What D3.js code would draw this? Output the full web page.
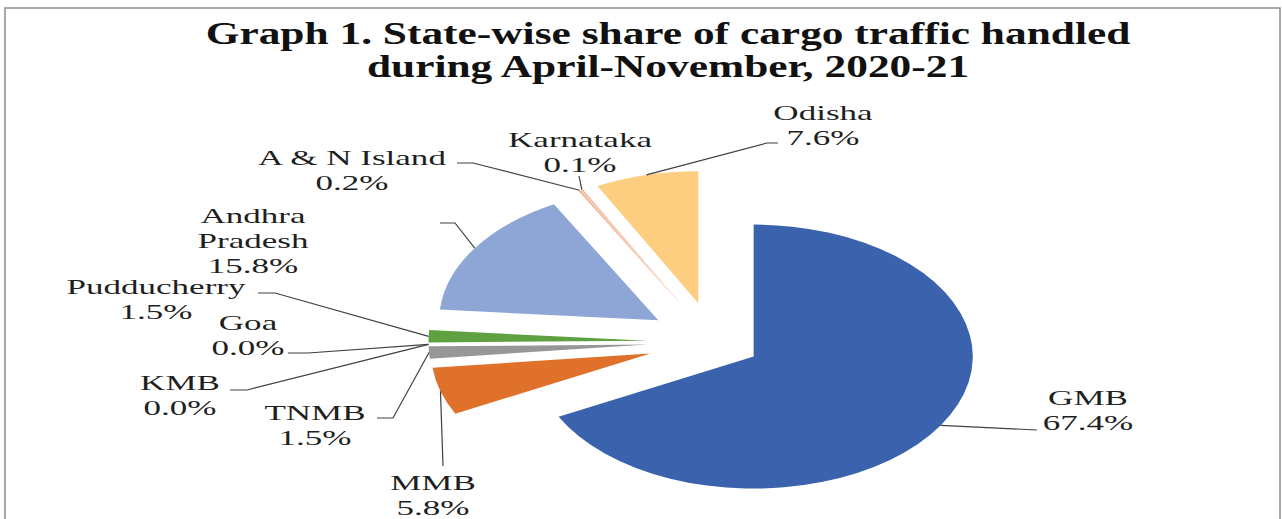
<!DOCTYPE html>
<html>
<head>
<meta charset="utf-8">
<script src="https://cdn.jsdelivr.net/npm/d3@7"></script>
<style>
  body{margin:0;background:#fff}
  text{font-family:"Liberation Serif","Times New Roman",serif}
</style>
</head>
<body>
<svg id="chart"></svg>
<script>
/* data */
const states = ['GMB','MMB','TNMB','KMB','Goa','Pudducherry','Andhra Pradesh','A & N Island','Karnataka','Odisha']
const shares = [67.4, 5.8, 1.5, 0.0, 0.0, 1.5, 15.8, 0.2, 0.1, 7.6]
const shareLabels = ['67.4%','5.8%','1.5%','0.0%','0.0%','1.5%','15.8%','0.2%','0.1%','7.6%']
const colors = ['#3b63ad','#e0712a','#979797','#f2c200','#5b9bd5','#5fa040','#8ea6d6','#f0b898','#eea67e','#fdcd80']
const titleLines = ['Graph 1. State-wise share of cargo traffic handled','during April-November, 2020-21']

const width = 1282, height = 519
const cx = 714, cy = 342, R = 132
const sx = 1.66          // the picture is stretched horizontally
const textSx = 1.63

/* label placement: name lines, label centre, first baseline, leader points */
const labelLayout = [
  {lines:['GMB'], x:1088, y:405, leader:[[1037,430]]},
  {lines:['MMB'], x:433, y:490, leader:[[443,466]]},
  {lines:['TNMB'], x:315, y:420, leader:[[393,418],[377,418]]},
  {lines:['KMB'], x:180, y:390, leader:[[247,390],[230,390]]},
  {lines:['Goa'], x:248, y:330, leader:[[308,353],[288,353]]},
  {lines:['Pudducherry'], x:156, y:294, leader:[[275,293],[258,293]]},
  {lines:['Andhra','Pradesh'], x:253, y:223, leader:[[455,223],[440,223]]},
  {lines:['A & N Island'], x:352, y:165, leader:[[473,163],[457,163]]},
  {lines:['Karnataka'], x:580, y:147, leader:[[579,176]]},
  {lines:['Odisha'], x:823, y:120, leader:[[767,143],[778,143]]}
]
const explode = d => d.index === 0 ? 28 : 40

const svg = d3.select('#chart').attr('width', width).attr('height', height)

/* frame */
svg.append('rect')
   .attr('x',5).attr('y',8)
   .attr('width',1275).attr('height',530)
   .attr('fill','none')
   .attr('stroke','#8c8c8c')
   .attr('stroke-width',1.5)

/* title */
titleLines.forEach((t,i) => {
  svg.append('text')
     .attr('transform','translate(668,'+(44+i*33)+') scale(1.4,1)')
     .attr('text-anchor','middle')
     .style('font-size','31px')
     .style('font-weight','bold')
     .attr('fill','#111')
     .text(t)
})

/* pie */
const pie = d3.pie().sort(null).value(d => d)
const arcs = pie(shares)
const arc = d3.arc().innerRadius(0).outerRadius(R)
const mid = d => (d.startAngle + d.endAngle)/2

const pieG = svg.append('g')
                .attr('transform','translate('+cx+','+cy+') scale('+sx+',1)')

pieG.selectAll('path')
    .data(arcs)
    .enter()
    .append('path')
    .attr('d', arc)
    .attr('fill', (d,i) => colors[i])
    .attr('transform', d => 'translate('+(Math.sin(mid(d))*explode(d))+','+(-Math.cos(mid(d))*explode(d))+')')

/* leader lines */
const outerPoint = d => {
  const r = R + explode(d), a = mid(d)
  return [cx + sx*Math.sin(a)*r, cy - Math.cos(a)*r]
}

svg.selectAll('polyline')
   .data(arcs)
   .enter()
   .append('polyline')
   .attr('points', (d,i) => [outerPoint(d)].concat(labelLayout[i].leader).map(p => p.join(',')).join(' '))
   .attr('fill','none')
   .attr('stroke','#404040')
   .attr('stroke-width',1.2)

/* labels */
arcs.forEach((d,i) => {
  const lay = labelLayout[i]
  const lines = lay.lines.concat([shareLabels[i]])
  lines.forEach((t,j) => {
    svg.append('text')
       .attr('transform','translate('+lay.x+','+(lay.y+j*25)+') scale('+textSx+',1)')
       .attr('text-anchor','middle')
       .style('font-size','21.5px')
       .attr('fill','#1f1f1f')
       .text(t)
  })
})
</script>
</body>
</html>
